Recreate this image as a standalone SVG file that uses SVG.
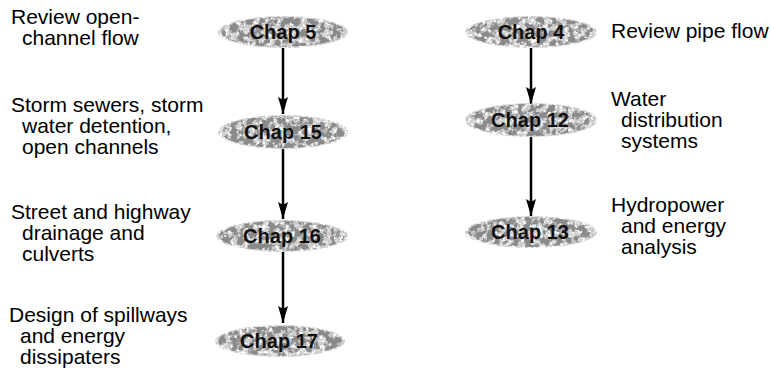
<svg xmlns="http://www.w3.org/2000/svg" width="771" height="373" viewBox="0 0 771 373">
<style>
.lbl{font-family:"Liberation Sans",Arial,sans-serif;font-size:21px;fill:#000}
.chap{font-family:"Liberation Sans",Arial,sans-serif;font-size:20px;font-weight:bold;fill:#111;text-anchor:middle}
.base{fill:#cccccc}
.mot{fill:#8a8a8a}
.conn{stroke:#000;stroke-width:2.5;fill:none}
</style>
<defs>
<marker id="ah" viewBox="0 0 17 10" refX="17" refY="5" markerWidth="17" markerHeight="10" markerUnits="userSpaceOnUse" orient="auto">
<path d="M0,0 L17,5 L0,10 L3,5 z" fill="#000"/>
</marker>
<filter id="mottle" x="-5%" y="-25%" width="110%" height="150%">
<feTurbulence type="fractalNoise" baseFrequency="0.16" numOctaves="3" seed="7" result="noise"/>
<feColorMatrix in="noise" type="matrix" values="0 0 0 0 0  0 0 0 0 0  0 0 0 0 0  0 0 0 7 -3.0" result="mask"/>
<feComposite in="SourceGraphic" in2="mask" operator="in"/>
</filter>
<filter id="holes" x="-5%" y="-25%" width="110%" height="150%">
<feTurbulence type="fractalNoise" baseFrequency="0.35" numOctaves="2" seed="3" result="noise"/>
<feColorMatrix in="noise" type="matrix" values="0 0 0 0 0  0 0 0 0 0  0 0 0 0 0  0 0 0 5 -1.7" result="mask"/>
<feComposite in="SourceGraphic" in2="mask" operator="in"/>
</filter>
</defs>
<g id="connectors">
<line class="conn" x1="283" y1="48" x2="283" y2="114" marker-end="url(#ah)"/>
<line class="conn" x1="283" y1="149" x2="283" y2="219" marker-end="url(#ah)"/>
<line class="conn" x1="283" y1="252" x2="283" y2="323" marker-end="url(#ah)"/>
<line class="conn" x1="531" y1="48" x2="531" y2="104" marker-end="url(#ah)"/>
<line class="conn" x1="531" y1="137" x2="531" y2="216" marker-end="url(#ah)"/>
</g>
<g id="chap5">
<ellipse class="base" cx="283" cy="32" rx="65" ry="16" filter="url(#holes)"/>
<ellipse class="mot" cx="283" cy="32" rx="62" ry="15" filter="url(#mottle)"/>
<text class="chap" x="283" y="39">Chap 5</text>
</g>
<g id="chap15">
<ellipse class="base" cx="283" cy="132" rx="65" ry="17" filter="url(#holes)"/>
<ellipse class="mot" cx="283" cy="132" rx="62" ry="16" filter="url(#mottle)"/>
<text class="chap" x="283" y="139">Chap 15</text>
</g>
<g id="chap16">
<ellipse class="base" cx="282" cy="236" rx="66" ry="16" filter="url(#holes)"/>
<ellipse class="mot" cx="282" cy="236" rx="63" ry="15" filter="url(#mottle)"/>
<text class="chap" x="282" y="243">Chap 16</text>
</g>
<g id="chap17">
<ellipse class="base" cx="280" cy="341" rx="65" ry="16" filter="url(#holes)"/>
<ellipse class="mot" cx="280" cy="341" rx="62" ry="15" filter="url(#mottle)"/>
<text class="chap" x="279" y="348">Chap 17</text>
</g>
<g id="chap4">
<ellipse class="base" cx="531" cy="32" rx="66" ry="16" filter="url(#holes)"/>
<ellipse class="mot" cx="531" cy="32" rx="63" ry="15" filter="url(#mottle)"/>
<text class="chap" x="531" y="39">Chap 4</text>
</g>
<g id="chap12">
<ellipse class="base" cx="531" cy="120" rx="66" ry="17" filter="url(#holes)"/>
<ellipse class="mot" cx="531" cy="120" rx="63" ry="16" filter="url(#mottle)"/>
<text class="chap" x="530" y="127">Chap 12</text>
</g>
<g id="chap13">
<ellipse class="base" cx="531" cy="232" rx="66" ry="16" filter="url(#holes)"/>
<ellipse class="mot" cx="531" cy="232" rx="63" ry="15" filter="url(#mottle)"/>
<text class="chap" x="530" y="239">Chap 13</text>
</g>
<g id="label-review-open">
<text class="lbl" x="11" y="24">Review open-</text>
<text class="lbl" x="22" y="45">channel flow</text>
</g>
<g id="label-storm">
<text class="lbl" x="11" y="112">Storm sewers, storm</text>
<text class="lbl" x="22" y="133">water detention,</text>
<text class="lbl" x="22" y="154">open channels</text>
</g>
<g id="label-street">
<text class="lbl" x="11" y="219">Street and highway</text>
<text class="lbl" x="22" y="240">drainage and</text>
<text class="lbl" x="22" y="261">culverts</text>
</g>
<g id="label-design">
<text class="lbl" x="9" y="322">Design of spillways</text>
<text class="lbl" x="20" y="343">and energy</text>
<text class="lbl" x="20" y="364">dissipaters</text>
</g>
<g id="label-review-pipe">
<text class="lbl" x="611" y="38">Review pipe flow</text>
</g>
<g id="label-water">
<text class="lbl" x="611" y="106">Water</text>
<text class="lbl" x="621" y="127">distribution</text>
<text class="lbl" x="621" y="148">systems</text>
</g>
<g id="label-hydro">
<text class="lbl" x="611" y="212">Hydropower</text>
<text class="lbl" x="621" y="233">and energy</text>
<text class="lbl" x="621" y="254">analysis</text>
</g>
</svg>
